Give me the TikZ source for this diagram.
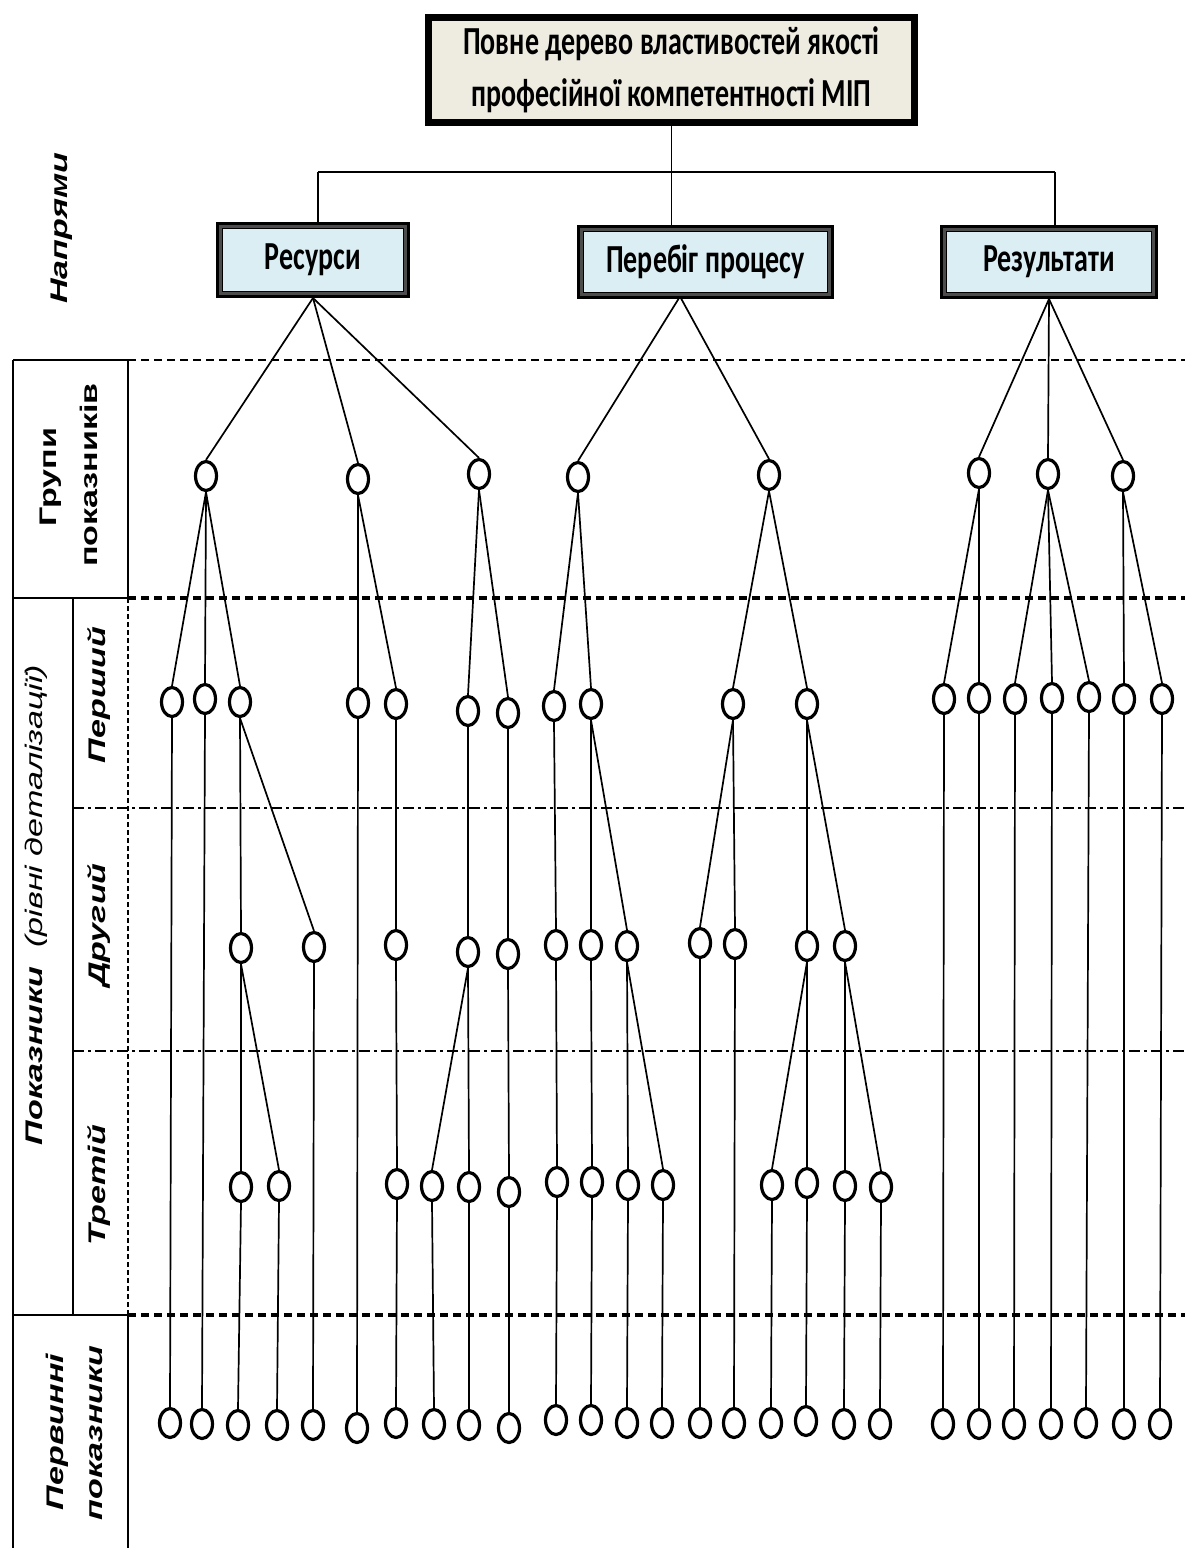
\documentclass[tikz,border=0pt]{standalone}
\usepackage{fontspec}
\setmainfont{Liberation Sans}
\newfontfamily\boxfont{Carlito}
\newfontfamily\labfont{Liberation Sans}
\usetikzlibrary{shapes.geometric}
\definecolor{beige}{HTML}{EEECE1}
\definecolor{lblue}{HTML}{DAEEF3}
\newcommand{\vlab}[1]{\scalebox{1.42}[1]{#1}}
\newcommand{\hlab}[1]{\scalebox{1}[1.42]{#1}}
\begin{document}
\begin{tikzpicture}[x=1pt,y=-1pt,
  dot/.style={ellipse, draw, line width=3.2pt, minimum width=21pt, minimum height=29pt, inner sep=0pt},
  con/.style={line width=1.7pt},
  tabline/.style={line width=1.8pt},
  topbox/.style={draw, line width=6pt, fill=beige, minimum width=487pt, minimum height=106pt, inner sep=0pt, font=\boxfont\bfseries\fontsize{28}{36.6}\selectfont},
  dirbox/.style={draw, line width=5pt, fill=lblue, inner sep=0pt, font=\boxfont\bfseries\fontsize{28}{30}\selectfont},
  sidelab/.style={rotate=90, anchor=base, inner sep=0pt, font=\labfont\fontsize{24}{28}\selectfont},
  lvlsep/.style={line width=2pt, dash pattern=on 11pt off 4pt on 3pt off 4pt},
  grpsep/.style={line width=2pt, dash pattern=on 8pt off 5pt},
  thicksep/.style={line width=3.8pt, dash pattern=on 8pt off 5pt}
]
\useasboundingbox (0,0) rectangle (1185,1548);

% ---- top and direction boxes
\node[topbox] (top) at (671.5,70) {\hlab{\begin{tabular}{@{}c@{}}Повне дерево властивостей якості\\професійної компетентності МІП\end{tabular}}};
\draw[line width=1.2pt] ([shift={(6,6)}]top.north west) rectangle ([shift={(-6,-6)}]top.south east);

\node[dirbox, minimum width=189pt, minimum height=71pt] (res) at (313,260) {\hlab{Ресурси}};
\node[dirbox, minimum width=252pt, minimum height=69pt] (proc) at (705.5,262) {\hlab{Перебіг процесу}};
\node[dirbox, minimum width=213pt, minimum height=69pt] (rsl) at (1049,262) {\hlab{Результати}};
\foreach \b in {res,proc,rsl}{
  \draw[line width=3.5pt, gray!60!black] ([shift={(4.5,4.5)}]\b.north west) rectangle ([shift={(-4.5,-4.5)}]\b.south east);
  \draw[line width=0.8pt] ([shift={(6.5,6.5)}]\b.north west) rectangle ([shift={(-6.5,-6.5)}]\b.south east);
}

\coordinate (jl) at (318,172);
\coordinate (jr) at (1055,172);
\draw[con] (top.south) -- (top.south |- jl);
\draw[con] (jl) -- (jr);
\draw[con] (jl) -- (jl |- res.north);
\draw[con] (top.south |- jl) -- (top.south |- proc.north);
\draw[con] (jr) -- (jr |- rsl.north);
\coordinate (procb) at (680,296.5);

% ---- left table
\draw[tabline] (13,360) -- (128,360);
\draw[tabline] (13,360) -- (13,1548);
\draw[tabline] (128,360) -- (128,598);
\draw[tabline] (13,598) -- (128,598);
\draw[tabline] (73,598) -- (73,1315);
\draw[tabline] (13,1315) -- (128,1315);
\draw[tabline] (128,1315) -- (128,1548);
\draw[line width=2.4pt, dash pattern=on 5pt off 3pt] (128,598) -- (128,1315);

% ---- separators
\draw[grpsep] (128,360) -- (1185,360);
\draw[thicksep] (128,598) -- (1185,598);
\draw[lvlsep] (73,808) -- (1185,808);
\draw[lvlsep] (73,1051) -- (1185,1051);
\draw[thicksep] (128,1315) -- (1185,1315);

% ---- side labels
\node[sidelab] (lnap) at (67,228) {\vlab{\bfseries\itshape Напрями}};
\node[sidelab] (lgr1) at (56,477) {\vlab{\bfseries Групи}};
\node[sidelab] (lgr2) at (97,475) {\vlab{\bfseries показників}};
\node[sidelab] (lpok) at (42,905) {\vlab{\bfseries\itshape Показники\ \ \mdseries(рівні деталізації)}};
\node[sidelab] (l1) at (105,695) {\vlab{\bfseries\itshape Перший}};
\node[sidelab] (l2) at (105,925) {\vlab{\bfseries\itshape Другий}};
\node[sidelab] (l3) at (105,1185) {\vlab{\bfseries\itshape Третій}};
\node[sidelab] (lpr1) at (63,1432) {\vlab{\bfseries\itshape Первинні}};
\node[sidelab] (lpr2) at (102,1433) {\vlab{\bfseries\itshape показники}};

% ---- circles
\foreach \n/\x/\y in {
  g1/206/476, g2/358/479, g3/479/474, g4/578/477, g5/769/475, g6/979/473, g7/1048/474, g8/1123/476,
  a1/172/702, a2/205/699, a3/240/702, b1/358/703, b2/396/704, c1/468/711, c2/508/713,
  d1/554/706, d2/591/704, e1/733/704, e2/807/704,
  f1/944/699, f2/979/698, f3/1015/699, f4/1052/698, f5/1089/697, f6/1124/699, f7/1162/699,
  a3a/241/948, a3b/314/947, b2a/396/945, c1a/468/952, c2a/508/954,
  d1a/556/945, d2a/591/945, d2b/627/946, e1a/700/943, e1b/735/944, e2a/807/946, e2b/845/946,
  a3a1/241/1187, a3a2/279/1186, b2a1/397/1184, c1a1/432/1186, c1a2/469/1187, c2a1/509/1192,
  d1a1/557/1182, d2a1/592/1182, d2b1/628/1185, d2b2/663/1185,
  e2a1/772/1185, e2a2/807/1183, e2b1/845/1186, e2b2/881/1187,
  p1/170/1423, p2/202/1424, p3/238/1425, p4/277/1425, p5/313/1425, p6/357/1428, p7/396/1423,
  p8/434/1424, p9/469/1425, p10/509/1428,
  p11/556/1420, p12/591/1420, p13/627/1423, p14/662/1423, p15/700/1423, p16/734/1423,
  p17/771/1423, p18/806/1421, p19/844/1424, p20/880/1424,
  p21/943/1424, p22/979/1424, p23/1014/1424, p24/1051/1424, p25/1086/1423, p26/1124/1424, p27/1160/1424}
  \node[dot] (\n) at (\x,\y) {};

% ---- connectors
\foreach \c in {g1,g2,g3} \draw[con] (res.south) -- (\c.north);
\foreach \c in {g4,g5} \draw[con] (procb) -- (\c.north);
\foreach \c in {g6,g7,g8} \draw[con] (rsl.south) -- (\c.north);
\foreach \p/\c in {
  g1/a1, g1/a2, g1/a3, g2/b1, g2/b2, g3/c1, g3/c2, g4/d1, g4/d2, g5/e1, g5/e2,
  g6/f1, g6/f2, g7/f3, g7/f4, g7/f5, g8/f6, g8/f7,
  a3/a3a, a3/a3b, b2/b2a, c1/c1a, c2/c2a, d1/d1a, d2/d2a, d2/d2b, e1/e1a, e1/e1b, e2/e2a, e2/e2b,
  a3a/a3a1, a3a/a3a2, b2a/b2a1, c1a/c1a1, c1a/c1a2, c2a/c2a1, d1a/d1a1, d2a/d2a1, d2b/d2b1, d2b/d2b2,
  e2a/e2a1, e2a/e2a2, e2b/e2b1, e2b/e2b2,
  a1/p1, a2/p2, a3a1/p3, a3a2/p4, a3b/p5, b1/p6, b2a1/p7, c1a1/p8, c1a2/p9, c2a1/p10,
  d1a1/p11, d2a1/p12, d2b1/p13, d2b2/p14, e1a/p15, e1b/p16, e2a1/p17, e2a2/p18, e2b1/p19, e2b2/p20,
  f1/p21, f2/p22, f3/p23, f4/p24, f5/p25, f6/p26, f7/p27}
  \draw[con] (\p.south) -- (\c.north);
\end{tikzpicture}
\end{document}
